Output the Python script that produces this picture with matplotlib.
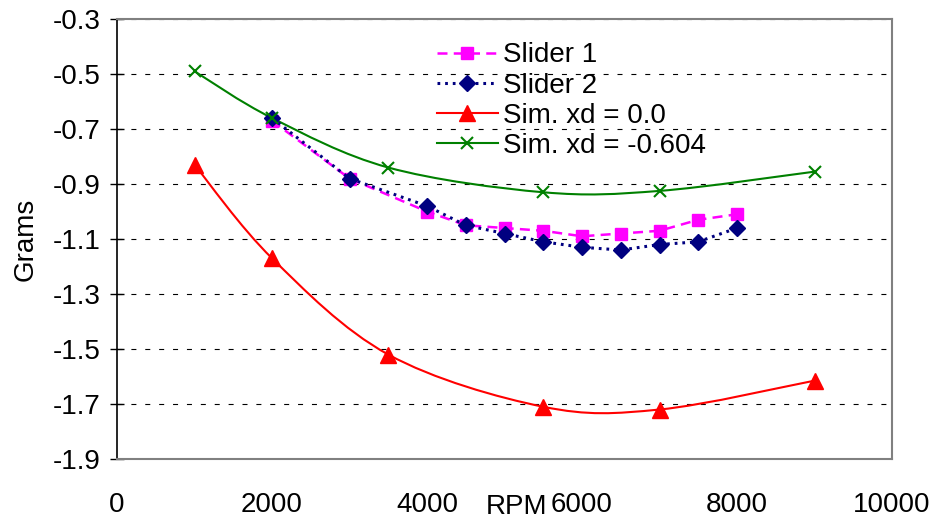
import numpy as np
import matplotlib.pyplot as plt
from matplotlib.path import Path
from matplotlib.patches import PathPatch
from matplotlib.lines import Line2D

plt.rcParams['font.family'] = ['Liberation Sans', 'DejaVu Sans']

# measured data
rpm_slider = [2000, 3000, 4000, 4500, 5000, 5500, 6000, 6500, 7000, 7500, 8000]
slider1 = [-0.67, -0.88, -1.00, -1.05, -1.06, -1.07, -1.09, -1.08, -1.07, -1.03, -1.01]
slider2 = [-0.66, -0.88, -0.98, -1.05, -1.08, -1.11, -1.13, -1.14, -1.12, -1.11, -1.06]

# simulations
rpm_sim = [1000, 2000, 3500, 5500, 7000, 9000]
sim_xd0 = [-0.83, -1.17, -1.52, -1.71, -1.72, -1.615]
sim_xd604 = [-0.49, -0.66, -0.84, -0.93, -0.925, -0.855]

labels = ["Slider 1", "Slider 2", "Sim. xd = 0.0", "Sim. xd = -0.604"]


def smooth_path(x, y):
    # spreadsheet-style smoothed line: cubic Bezier segments through every point
    p = np.column_stack([x, y]).astype(float)
    ext = np.vstack([p[0], p, p[-1]])
    verts = [p[0]]
    codes = [Path.MOVETO]
    for i in range(1, len(ext) - 2):
        p0, p1, p2, p3 = ext[i - 1], ext[i], ext[i + 1], ext[i + 2]
        verts += [p1 + (p2 - p0) / 6, p2 - (p3 - p1) / 6, p2]
        codes += [Path.CURVE4] * 3
    return Path(verts, codes)


fig = plt.figure(figsize=(9.39, 5.24), dpi=100)
ax = fig.add_axes([0.1246, 0.124, 0.8254, 0.8397])

ax.plot(rpm_slider, slider1, color='#ff00ff', lw=1.8, dashes=(4, 2.5),
        marker='s', ms=9, zorder=3)
ax.plot(rpm_slider, slider2, color='#000080', lw=2.2, dashes=(0.9, 1.6),
        marker='D', ms=8, zorder=4)

ax.add_patch(PathPatch(smooth_path(rpm_sim, sim_xd0), fill=False,
                       edgecolor='#ff0000', lw=1.5, zorder=3))
ax.plot(rpm_sim, sim_xd0, ls='none', marker='^', ms=11, color='#ff0000', zorder=4)

ax.add_patch(PathPatch(smooth_path(rpm_sim, sim_xd604), fill=False,
                       edgecolor='#008000', lw=1.5, zorder=3))
ax.plot(rpm_sim, sim_xd604, ls='none', marker='x', ms=9, mew=1.5,
        color='#008000', zorder=5)

ax.set_xlim(0, 10000)
ax.set_ylim(-1.9, -0.3)
ax.set_xticks(np.arange(0, 10001, 2000))
ax.set_yticks(np.round(np.arange(-1.9, -0.29, 0.2), 1))
ax.yaxis.set_major_formatter(plt.FuncFormatter(lambda v, _: f"{v:.1f}"))

ax.tick_params(axis='x', length=0, pad=24, labelsize=20)
ax.tick_params(axis='y', direction='inout', length=10, width=1, pad=7, labelsize=20)

ax.grid(axis='y', color='black', lw=0.8, linestyle=(0, (4.5, 8)))
ax.set_axisbelow(True)

for side in ['top', 'right', 'bottom']:
    ax.spines[side].set_color('#808080')
    ax.spines[side].set_linewidth(1.5)
ax.spines['left'].set_color('black')
ax.spines['left'].set_linewidth(1.2)

ax.set_xlabel('RPM', fontsize=20, va='center')
ax.xaxis.set_label_coords(0.515, -0.109)
ax.set_ylabel('Grams', fontsize=20, va='center')
ax.yaxis.set_label_coords(-0.118, 0.5)

handles = [
    Line2D([], [], color='#ff00ff', lw=1.8, dashes=(4, 2.5), marker='s', ms=9),
    Line2D([], [], color='#000080', lw=2.2, dashes=(0.9, 1.6), marker='D', ms=8),
    Line2D([], [], color='#ff0000', lw=1.5, marker='^', ms=11),
    Line2D([], [], color='#008000', lw=1.5, marker='x', ms=9, mew=1.5),
]
ax.legend(handles, labels, loc='upper left', bbox_to_anchor=(0.398, 0.972),
          frameon=False, fontsize=20, numpoints=1, handlelength=2.2,
          handletextpad=0.2, labelspacing=0.15, borderaxespad=0)

fig.savefig('out.png', dpi=100)
